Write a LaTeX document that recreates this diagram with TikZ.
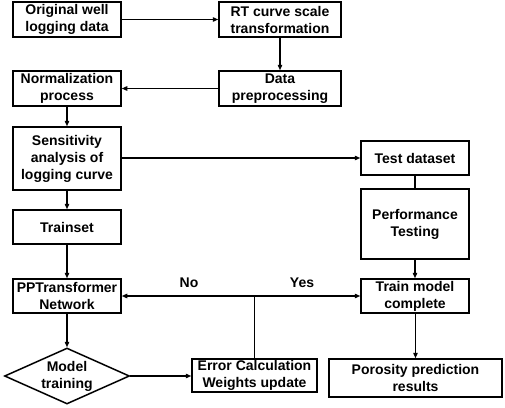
\documentclass[tikz,border=0pt]{standalone}
\usepackage{fontspec}
\setmainfont{Liberation Sans}
\usetikzlibrary{arrows.meta,shapes.geometric}
\begin{document}
\begin{tikzpicture}[x=1pt,y=-1pt,
  box/.style={draw, line width=1.5pt, inner sep=0pt, align=center,
    font=\bfseries\fontsize{14}{17}\selectfont},
  txt/.style={inner sep=0pt, align=center, font=\bfseries\fontsize{14}{17}\selectfont},
  arr/.style={line width=1.2pt, -{Triangle[length=5.5pt,width=4.5pt]}},
  ln/.style={line width=1.2pt}]
\useasboundingbox (0,0) rectangle (505,407);
\node[box, minimum width=108pt, minimum height=35pt] (b1) at (67,19.5) {Original well\\logging data};
\node[box, minimum width=122pt, minimum height=35pt] (b2) at (280,19.5) {RT curve scale\\transformation};
\node[box, minimum width=122pt, minimum height=35pt] (b3) at (280,88.5) {Data\\preprocessing};
\node[box, minimum width=108pt, minimum height=35pt] (b4) at (67,88.5) {Normalization\\process};
\node[box, minimum width=108pt, minimum height=63pt] (b5) at (67,158.5) {Sensitivity\\analysis of\\logging curve};
\node[box, minimum width=108pt, minimum height=34pt] (test) at (415,158) {Test dataset};
\node[box, minimum width=108pt, minimum height=70pt] (perf) at (415,224) {Performance\\Testing};
\node[box, minimum width=108pt, minimum height=34pt] (train) at (67,227) {Trainset};
\node[box, minimum width=108pt, minimum height=34pt] (ppt) at (67,296) {PPTransformer\\Network};
\node[box, minimum width=108pt, minimum height=34pt] (tm) at (415,296) {Train model\\complete};
\node[box, diamond, minimum width=125pt, minimum height=56pt] (mt) at (67,376) {};
\node[txt] (mtl) at (mt) {Model\\training};
\node[box, minimum width=125pt, minimum height=33pt] (err) at (254.5,375.5) {Error Calculation\\Weights update};
\node[box, minimum width=173pt, minimum height=38pt] (por) at (415.5,378) {Porosity prediction\\results};
\node[txt] (no) at (189,283) {No};
\node[txt] (yes) at (302,283) {Yes};
\coordinate (j) at (err.north |- ppt.east);

\draw[arr] (b1) -- (b2);
\draw[arr] (b2) -- (b3);
\draw[arr] (b3) -- (b4);
\draw[arr] (b4) -- (b5);
\draw[arr] (b5.east |- test) -- (test);
\draw[arr] (b5) -- (train);
\draw[ln] (test) -- (perf);
\draw[arr] (train) -- (ppt);
\draw[arr] (perf) -- (tm);
\draw[arr] (ppt) -- (mt);
\draw[arr] (mt.east) -- (err.west |- mt.east);
\draw[ln] (err.north) -- (j);
\draw[arr] (j) -- (ppt.east);
\draw[arr] (j) -- (tm.west);
\draw[arr] (tm.south -| por.north) -- (por.north);
\end{tikzpicture}
\end{document}
